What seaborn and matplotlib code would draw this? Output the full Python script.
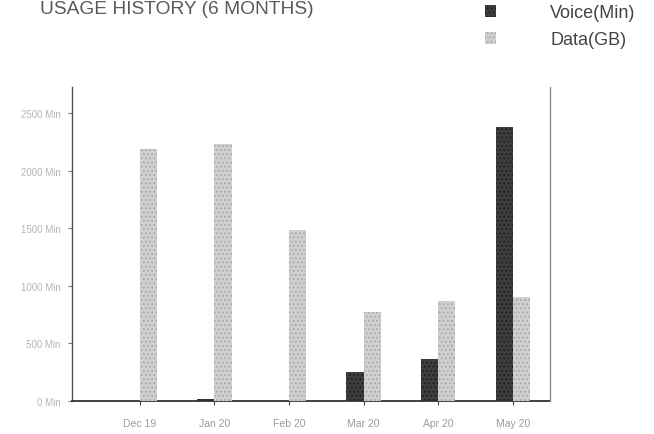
import matplotlib
matplotlib.use("Agg")
import matplotlib.pyplot as plt
from matplotlib.patches import Patch
import seaborn as sns
import pandas as pd

# Monthly usage figures
months = ["Dec 19", "Jan 20", "Feb 20", "Mar 20", "Apr 20", "May 20"]
voice_min = [0, 15, 0, 252, 365, 2378]
data_gb = [21.9, 22.3, 14.8, 7.7, 8.7, 9.0]
series = ["Voice(Min)", "Data(GB)"]
y_ticks = [0, 500, 1000, 1500, 2000, 2500]
y_tick_labels = ["0 Min", "500 Min", "1000 Min", "1500 Min", "2000 Min", "2500 Min"]

voice_color = "#3d3d3d"
data_color = "#cfcfcf"

sns.set_style("white")
plt.rcParams["font.family"] = ["Liberation Sans", "DejaVu Sans"]
plt.rcParams["hatch.linewidth"] = 0.8

fig = plt.figure(figsize=(6.54, 4.35), dpi=100)
ax = fig.add_axes([0.110, 0.076, 0.731, 0.722])
ax2 = ax.twinx()

voice_df = pd.DataFrame({"month": months, "value": voice_min, "series": series[0]})
data_df = pd.DataFrame({"month": months, "value": data_gb, "series": series[1]})

common = dict(x="month", y="value", hue="series", hue_order=series,
              order=months, width=0.46, dodge=True, legend=False,
              errorbar=None, saturation=1,
              palette={series[0]: voice_color, series[1]: data_color})
sns.barplot(data=voice_df, ax=ax, **common)
sns.barplot(data=data_df, ax=ax2, **common)

# grainy fill on the bars
for p in ax.patches:
    p.set_hatch("....")
    p.set_edgecolor("#1e1e1e")
    p.set_linewidth(0)
for p in ax2.patches:
    p.set_hatch("....")
    p.set_edgecolor("#a8a8a8")
    p.set_linewidth(0)

ax.set_xlim(-0.91, 5.5)
ax.set_ylim(0, 2726)
ax2.set_ylim(0, 27.26)

ax.set_yticks(y_ticks)
ax.set_yticklabels(y_tick_labels, fontsize=7, color="#b5b5b5")
ax.tick_params(axis="y", left=True, length=3, width=0.8, color="#777777", pad=5)
ax.tick_params(axis="x", bottom=True, length=3, width=0.8, color="#444444",
               labelsize=7.5, labelcolor="#9a9a9a", pad=9)
ax2.set_yticks([])
ax.set_xlabel("")
ax.set_ylabel("")
ax2.set_ylabel("")

for a in (ax, ax2):
    a.spines["top"].set_visible(False)
ax.spines["left"].set_color("#555555")
ax.spines["left"].set_linewidth(1.0)
ax.spines["bottom"].set_color("#333333")
ax.spines["bottom"].set_linewidth(1.3)
ax2.spines["right"].set_color("#8a8a8a")
ax2.spines["right"].set_linewidth(0.8)
ax2.spines["left"].set_visible(False)
ax2.spines["bottom"].set_visible(False)

fig.text(0.061, 0.997, "USAGE HISTORY (6 MONTHS)", fontsize=13.8, color="#5a5a5a",
         ha="left", va="top")

handles = [Patch(facecolor=voice_color, edgecolor="#1e1e1e", hatch="....", linewidth=0),
           Patch(facecolor=data_color, edgecolor="#a8a8a8", hatch="....", linewidth=0)]
fig.legend(handles, series, loc="upper left", bbox_to_anchor=(0.717, 1.026),
           frameon=False, fontsize=13, handlelength=0.6, handleheight=0.65,
           handletextpad=3.0, labelspacing=0.55, labelcolor="#444444")

fig.savefig("out.png", dpi=100)
